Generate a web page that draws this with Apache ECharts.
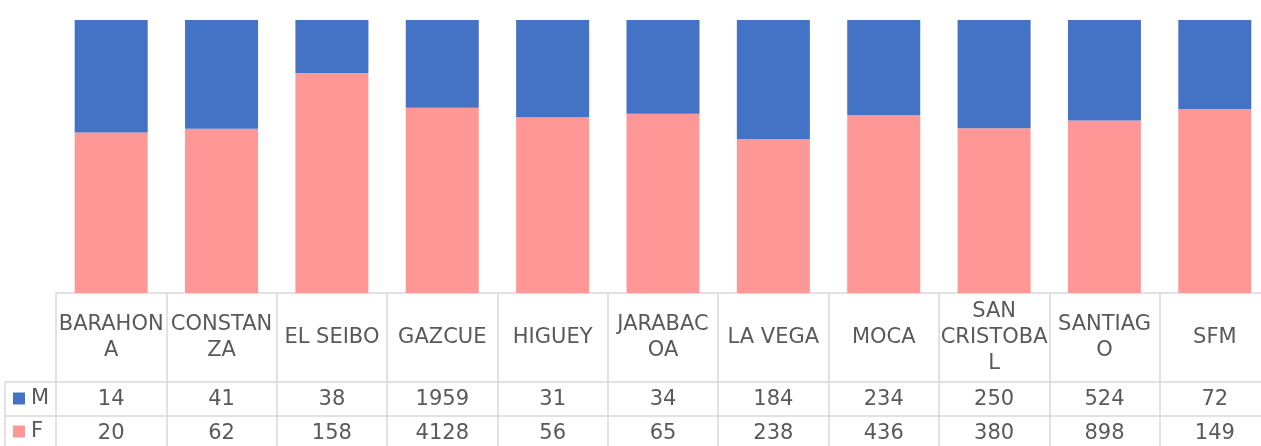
<!DOCTYPE html>
<html>
<head>
<meta charset="utf-8">
<script src="https://cdn.jsdelivr.net/npm/echarts@6/dist/echarts.min.js"></script>
<style>
  html, body { margin: 0; padding: 0; background: #fff; }
  #chart { width: 1261px; height: 446px; }
</style>
</head>
<body>
<div id="chart"></div>
<script>
var categories = ['BARAHONA', 'CONSTANZA', 'EL SEIBO', 'GAZCUE', 'HIGUEY', 'JARABACOA', 'LA VEGA', 'MOCA', 'SAN CRISTOBAL', 'SANTIAGO', 'SFM'];
// header text as wrapped in the table
var headerLabels = ['BARAHON\nA', 'CONSTAN\nZA', 'EL SEIBO', 'GAZCUE', 'HIGUEY', 'JARABAC\nOA', 'LA VEGA', 'MOCA', 'SAN\nCRISTOBA\nL', 'SANTIAG\nO', 'SFM'];
var countM = [14, 41, 38, 1959, 31, 34, 184, 234, 250, 524, 72];
var countF = [20, 62, 158, 4128, 56, 65, 238, 436, 380, 898, 149];

var colorM = '#4472C4';
var colorF = '#FF9797';
var textColor = '#595959';
var lineColor = '#D9D9D9';
var font = 'DejaVu Sans';

// 100% stacked: share of each group per category
var pctM = [];
var pctF = [];
for (var i = 0; i < categories.length; i++) {
    var total = countM[i] + countF[i];
    pctM.push(countM[i] / total * 100);
    pctF.push(countF[i] / total * 100);
}

var myChart = echarts.init(document.getElementById('chart'));

function legendKey(name, top) {
    return {
        data: [name],
        left: 13,
        top: top,
        padding: 0,
        itemWidth: 12,
        itemHeight: 12,
        itemGap: 4,
        icon: 'rect',
        selectedMode: false,
        textStyle: { fontFamily: font, fontSize: 21, color: textColor, padding: [0, 0, 0, 1] }
    };
}

function valueAxis(offset, values) {
    return {
        type: 'category',
        data: categories,
        position: 'bottom',
        offset: offset,
        axisLine: { show: true, lineStyle: { color: lineColor, width: 1.5 } },
        axisTick: { show: false },
        axisLabel: {
            interval: 0,
            margin: 18,
            verticalAlign: 'middle',
            fontFamily: font,
            fontSize: 21,
            color: textColor,
            formatter: function (value, index) { return String(values[index]); }
        }
    };
}

var option = {
    animation: false,
    grid: { left: 56, top: 20, bottom: 153, right: -9, containLabel: false, outerBoundsMode: 'none' },
    legend: [legendKey('M', 388), legendKey('F', 421)],
    xAxis: [
        {
            type: 'category',
            data: categories,
            position: 'bottom',
            axisLine: { show: true, lineStyle: { color: lineColor, width: 1.5 } },
            axisTick: { show: true, length: 160, lineStyle: { color: lineColor, width: 1.5 } },
            axisLabel: {
                interval: 0,
                margin: 45,
                verticalAlign: 'middle',
                fontFamily: font,
                fontSize: 21,
                lineHeight: 26,
                color: textColor,
                formatter: function (value, index) { return headerLabels[index]; }
            }
        },
        valueAxis(89, countM),
        valueAxis(123, countF)
    ],
    yAxis: { type: 'value', min: 0, max: 100, show: false },
    series: [
        {
            name: 'F',
            type: 'bar',
            stack: 'total',
            barWidth: 73,
            itemStyle: { color: colorF },
            data: pctF
        },
        {
            name: 'M',
            type: 'bar',
            stack: 'total',
            barWidth: 73,
            itemStyle: { color: colorM },
            data: pctM
        }
    ],
    // legend cell borders left of the table
    graphic: [
        { type: 'line', shape: { x1: 5, y1: 382, x2: 56, y2: 382 }, style: { stroke: lineColor, lineWidth: 1.5 } },
        { type: 'line', shape: { x1: 5, y1: 416, x2: 56, y2: 416 }, style: { stroke: lineColor, lineWidth: 1.5 } },
        { type: 'line', shape: { x1: 5, y1: 382, x2: 5, y2: 446 }, style: { stroke: lineColor, lineWidth: 1.5 } }
    ]
};
myChart.setOption(option);
</script>
</body>
</html>
